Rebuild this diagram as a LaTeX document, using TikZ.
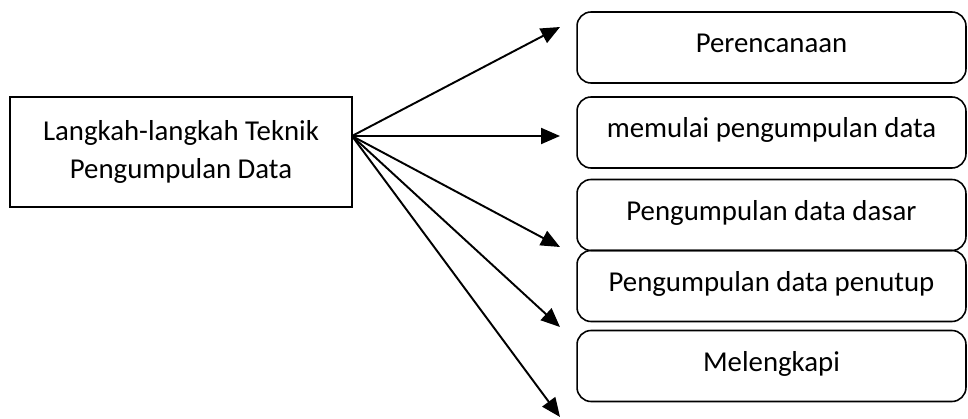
\documentclass[tikz,border=0pt]{standalone}
\usepackage{fontspec}
\setmainfont{Carlito}
\usetikzlibrary{arrows.meta}
\tikzset{
  langkah/.style={shape=rectangle,rounded corners=8pt,draw=black,line width=0.9pt,
    minimum width=7.78cm,inner ysep=0pt,text height=0.82cm,text depth=0.6cm,
    font=\fontsize{16.4}{21.6}\selectfont},
  panah/.style={-{Triangle[length=0.38cm,width=0.32cm]},line width=1.1pt}
}
\begin{document}
\begin{tikzpicture}[x=0.02cm,y=-0.02cm]
                \useasboundingbox (0,0) rectangle (968,419);
                \node[shape=rectangle,draw=black,line width=0.9pt,minimum width=6.84cm,minimum height=2.2cm,align=center,font=\fontsize{16.4}{21.6}\selectfont] (judul) at (181,152) {Langkah-langkah Teknik\\Pengumpulan Data};
                \coordinate (hub) at (352,136);

                \node[langkah] (rencana) at (771.5,47.5) {Perencanaan};
                \node[langkah] (mulai) at (771.5,132.5) {memulai pengumpulan data};
                \node[langkah] (dasar) at (771.5,215) {Pengumpulan data dasar};
                \node[langkah] (penutup) at (771.5,286) {Pengumpulan data penutup};
                \node[langkah] (lengkap) at (771.5,366) {Melengkapi};

                \coordinate (u1) at (560,27);
                \coordinate (u2) at (560,136);
                \coordinate (u3) at (560,247);
                \coordinate (u4) at (560,327);
                \coordinate (u5) at (560,417);

                \path [panah] (hub) edge (u1);
                \path [panah] (hub) edge (u2);
                \path [panah] (hub) edge (u3);
                \path [panah] (hub) edge (u4);
                \path [panah] (hub) edge (u5);
            \end{tikzpicture}
\end{document}
